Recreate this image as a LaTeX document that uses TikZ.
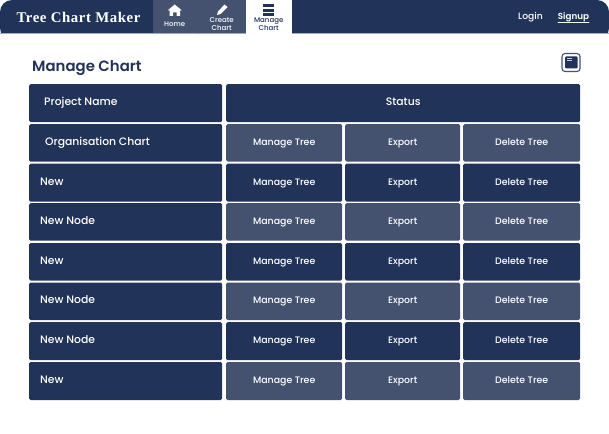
\documentclass[tikz,border=0pt]{standalone}
\usepackage{fontspec}
\setmainfont{Poppins Medium}
\newfontfamily\headfont{Poppins SemiBold}
\newfontfamily\logofont{Liberation Serif}[LetterSpace=4]
\definecolor{navyc}{RGB}{34,51,90}
\definecolor{slatec}{RGB}{68,82,112}
\definecolor{edgec}{RGB}{160,170,195}
\tikzset{
  cell/.style={rounded corners=1.5pt, minimum height=#1, inner sep=0pt, text=white,
    text height=7pt, text depth=2pt, font=\fontsize{9.4}{10}\selectfont},
  cell/.default=37pt,
  namecell/.style={font=\fontsize{10.8}{12}\selectfont, text=white, anchor=west, inner sep=0pt,
    text height=8pt, text depth=2pt},
  tabtext/.style={font=\fontsize{7}{8}\selectfont, align=center, inner sep=0pt},
}
\begin{document}
\begin{tikzpicture}[x=1pt, y=-1pt, line cap=round]
  \useasboundingbox (0,0) rectangle (609,433);
  \fill[white] (0,0) rectangle (609,433);

  % top bar
  \fill[navyc, rounded corners=12pt] (0,40) -- (0,0) -- (609,0) -- (609,40) -- cycle;
  \fill[white] (0,33.5) rectangle (609,45);
  \draw[edgec, line width=0.7pt] (0,33.5) -- (246,33.5) (292,33.5) -- (609,33.5);
  \node[text=white, inner sep=0pt, font=\logofont\bfseries\fontsize{14.8}{16}\selectfont] (logo) at (78.5,17.5) {Tree Chart Maker};

  % tabs
  \fill[slatec] (152.5,0) rectangle (198,33.5);
  \fill[slatec] (199,0) rectangle (245.5,33.5);
  \fill[white] (245.5,0) rectangle (291.5,34);
  \draw[navyc!85, line width=0.6pt] (198.5,0) -- (198.5,33);
  \node[tabtext, text=white] (home) at (174.7,24.5) {Home};
  \node[tabtext, text=white] (create) at (221.7,23.8) {Create\\Chart};
  \node[tabtext, text=navyc] (manage) at (268.7,23.8) {Manage\\Chart};

  % home icon
  \fill[white] (167.5,10.5) -- (174.7,4.5) -- (182,10.5) -- (180,10.5) -- (180,16) -- (176.5,16)
    -- (176.5,12.5) -- (173,12.5) -- (173,16) -- (169.5,16) -- (169.5,10.5) -- cycle;
  % pencil icon
  \fill[white] (217,15) -- (218,11.5) -- (224.5,4.5) -- (227.5,7) -- (220.5,14) -- cycle;
  % list icon
  \foreach \y in {4.5,8.7,12.9}{
    \fill[navyc] (263,\y) rectangle (274,{\y+3});
  }

  % login links
  \node[text=white, inner sep=0pt, font=\fontsize{9.2}{10}\selectfont] (login) at (530.5,17.3) {Login};
  \node[text=white, inner sep=0pt, font=\headfont\fontsize{8.8}{10}\selectfont] (signup) at (573.5,17.3) {Signup};
  \draw[white, line width=0.6pt] (558,22.8) -- (589,22.8);

  % heading and panel icon
  \node[text=navyc, anchor=west, inner sep=0pt, text height=10pt, text depth=3pt, font=\headfont\fontsize{14.9}{17}\selectfont] (title) at (32,68.5) {Manage Chart};
  \draw[slatec, line width=1.1pt, rounded corners=3pt] (562,53.5) rectangle (580,71.5);
  \fill[navyc, rounded corners=1pt] (565,56.5) rectangle (577.5,68.5);
  \fill[white!75!navyc] (566.5,58) rectangle (571.5,59.2);
  \fill[white!75!navyc] (566.5,60.5) rectangle (571.5,61.5);

  % table head
  \node[cell=38pt, fill=navyc, minimum width=193pt, anchor=north west] (headname) at (29,84) {};
  \node[namecell] (headtext) at (44,102) {Project Name};
  \node[cell=38pt, fill=navyc, minimum width=354pt, anchor=north west, font=\fontsize{10.8}{12}\selectfont] (headstatus) at (226,84) {Status};

  % rows
  \foreach \n/\y/\h/\c/\t/\tx in {1/124/37.5/slatec/Organisation Chart/45, 2/163.5/38/navyc/New/40,
    3/203/37.5/slatec/New Node/40, 4/242.8/37.5/navyc/New/40, 5/282.3/37.5/slatec/New Node/40,
    6/322/38/navyc/New Node/40, 7/361.8/38/slatec/New/40}{
    \node[cell=\h pt, fill=navyc, minimum width=193pt, anchor=north west] (name\n) at (29,\y) {};
    \node[namecell] (label\n) at (\tx,{\y+\h/2-0.5}) {\t};
    \node[cell=\h pt, fill=\c, minimum width=116pt, anchor=north west] (tree\n) at (226,\y) {Manage Tree};
    \node[cell=\h pt, fill=\c, minimum width=115pt, anchor=north west] (export\n) at (345,\y) {Export};
    \node[cell=\h pt, fill=\c, minimum width=117pt, anchor=north west] (delete\n) at (463,\y) {Delete Tree};
  }
\end{tikzpicture}
\end{document}
